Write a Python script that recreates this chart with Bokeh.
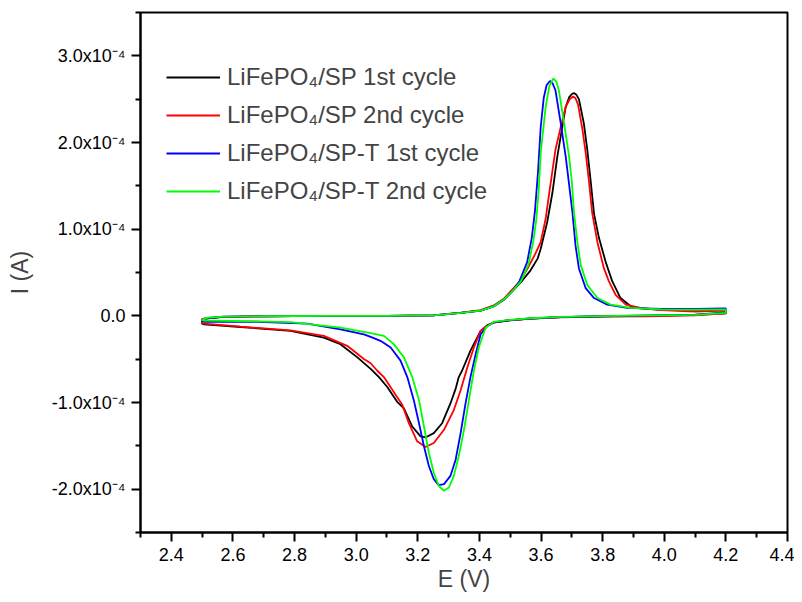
from bokeh.plotting import figure
from bokeh.models import (FixedTicker, CustomJSTickFormatter, Legend, LegendItem,
                          Range1d, ColumnDataSource)
from bokeh.embed import file_html
from bokeh.resources import INLINE

# ---------------- data (I in units of 1e-4 A, converted below) ----------------
UNIT = 1e-4

black_E = [2.50, 2.57, 2.70, 2.90, 3.10, 3.25, 3.34, 3.404, 3.447, 3.480, 3.511, 3.540,
           3.566, 3.589, 3.599, 3.620, 3.637, 3.653, 3.669, 3.680, 3.691, 3.700, 3.707,
           3.715, 3.723, 3.739, 3.750, 3.761, 3.772, 3.788, 3.810, 3.831, 3.858, 3.891,
           3.923, 3.99, 4.10, 4.20,
           4.20, 4.10, 3.95, 3.80, 3.664, 3.566, 3.491, 3.447, 3.425, 3.404, 3.371, 3.344,
           3.333, 3.323, 3.306, 3.279, 3.252, 3.225, 3.209, 3.182, 3.155, 3.133, 3.101,
           3.074, 3.047, 3.004, 2.949, 2.895, 2.787, 2.625, 2.506, 2.50, 2.50]
black_I = [-0.035, -0.011, -0.005, 0.0, 0.0, 0.005, 0.034, 0.06, 0.111, 0.186, 0.30, 0.41,
           0.525, 0.66, 0.775, 1.08, 1.42, 1.84, 2.18, 2.41, 2.52, 2.56, 2.57,
           2.55, 2.50, 2.22, 1.92, 1.56, 1.18, 0.90, 0.62, 0.40, 0.205, 0.11,
           0.085, 0.07, 0.06, 0.065,
           0.03, 0.01, 0.0, -0.005, -0.015, -0.031, -0.054, -0.075, -0.11, -0.174, -0.402, -0.631,
           -0.707, -0.84, -1.011, -1.239, -1.353, -1.403, -1.391, -1.277, -1.068, -0.992, -0.821,
           -0.707, -0.612, -0.479, -0.327, -0.251, -0.174, -0.129, -0.099, -0.09, -0.035]

red_E = [2.50, 2.57, 2.70, 2.90, 3.10, 3.25, 3.34, 3.404, 3.447, 3.480, 3.511, 3.534,
         3.560, 3.582, 3.599, 3.615, 3.628, 3.647, 3.664, 3.680, 3.693, 3.704, 3.712,
         3.720, 3.734, 3.745, 3.755, 3.766, 3.783, 3.804, 3.820, 3.842, 3.875, 3.923,
         3.99, 4.10, 4.20,
         4.20, 4.10, 3.95, 3.80, 3.664, 3.566, 3.491, 3.447, 3.425, 3.404, 3.382, 3.361,
         3.339, 3.317, 3.285, 3.252, 3.225, 3.198, 3.171, 3.150, 3.122, 3.090, 3.068,
         3.047, 3.025, 2.971, 2.895, 2.787, 2.625, 2.506, 2.50, 2.50]
red_I = [-0.035, -0.011, -0.005, 0.0, 0.0, 0.005, 0.036, 0.065, 0.12, 0.20, 0.32, 0.41,
         0.57, 0.72, 0.85, 1.12, 1.45, 1.92, 2.18, 2.41, 2.50, 2.53, 2.51,
         2.44, 2.16, 1.88, 1.57, 1.19, 0.85, 0.55, 0.40, 0.243, 0.129, 0.091,
         0.065, 0.05, 0.06,
         0.03, 0.005, -0.005, -0.01, -0.018, -0.033, -0.056, -0.078, -0.115, -0.174, -0.365, -0.593,
         -0.859, -1.087, -1.315, -1.467, -1.513, -1.448, -1.239, -1.030, -0.878, -0.707, -0.631,
         -0.547, -0.498, -0.346, -0.231, -0.168, -0.125, -0.091, -0.085, -0.035]

blue_E = [2.50, 2.52, 2.57, 2.70, 2.90, 3.10, 3.25, 3.34, 3.404, 3.447, 3.480, 3.511,
          3.530, 3.555, 3.570, 3.580, 3.590, 3.599, 3.609, 3.618, 3.629, 3.638, 3.647,
          3.664, 3.680, 3.691, 3.702, 3.712, 3.723, 3.745, 3.772, 3.815, 3.880, 3.99,
          4.10, 4.20,
          4.20, 4.10, 3.95, 3.80, 3.664, 3.566, 3.491, 3.447, 3.425, 3.404, 3.388, 3.371,
          3.355, 3.339, 3.323, 3.306, 3.285, 3.268, 3.252, 3.236, 3.220, 3.204, 3.187,
          3.166, 3.144, 3.112, 3.079, 3.047, 3.025, 2.949, 2.841, 2.679, 2.506, 2.50, 2.50]
blue_I = [-0.06, -0.025, -0.01, -0.005, 0.0, 0.0, 0.005, 0.034, 0.06, 0.11, 0.19, 0.30,
          0.40, 0.62, 0.90, 1.20, 1.65, 2.18, 2.52, 2.66, 2.71, 2.68, 2.60,
          2.22, 1.84, 1.52, 1.19, 0.81, 0.547, 0.319, 0.205, 0.129, 0.091, 0.08,
          0.08, 0.085,
          0.04, 0.015, 0.005, -0.005, -0.015, -0.031, -0.054, -0.075, -0.12, -0.213, -0.441, -0.707,
          -1.011, -1.353, -1.657, -1.847, -1.942, -1.953, -1.885, -1.733, -1.505, -1.239, -0.973,
          -0.707, -0.517, -0.365, -0.288, -0.243, -0.213, -0.156, -0.091, -0.068, -0.068, -0.065, -0.06]

green_E = [2.50, 2.52, 2.57, 2.70, 2.90, 3.10, 3.25, 3.34, 3.404, 3.447, 3.480, 3.511,
           3.535, 3.560, 3.575, 3.585, 3.593, 3.599, 3.615, 3.627, 3.640, 3.650, 3.658,
           3.675, 3.691, 3.700, 3.707, 3.718, 3.729, 3.750, 3.783, 3.826, 3.891, 3.99,
           4.10, 4.20,
           4.20, 4.10, 3.95, 3.80, 3.664, 3.566, 3.491, 3.447, 3.420, 3.398, 3.382, 3.366,
           3.350, 3.333, 3.317, 3.301, 3.285, 3.268, 3.252, 3.236, 3.220, 3.204, 3.182,
           3.155, 3.122, 3.090, 3.047, 2.949, 2.787, 2.506, 2.50, 2.50]
green_I = [-0.045, -0.02, -0.01, -0.005, 0.0, 0.0, 0.005, 0.034, 0.06, 0.11, 0.19, 0.30,
           0.40, 0.60, 0.86, 1.12, 1.48, 1.88, 2.41, 2.65, 2.74, 2.70, 2.60,
           2.22, 1.84, 1.55, 1.19, 0.85, 0.585, 0.357, 0.205, 0.129, 0.091, 0.075,
           0.07, 0.075,
           0.035, 0.012, 0.005, -0.003, -0.012, -0.028, -0.05, -0.07, -0.137, -0.365, -0.631, -0.973,
           -1.315, -1.619, -1.847, -1.981, -2.018, -1.961, -1.810, -1.582, -1.277, -0.973, -0.707,
           -0.479, -0.327, -0.231, -0.20, -0.137, -0.072, -0.054, -0.05, -0.045]

series_names = ["LiFePO\u2084/SP 1st cycle", "LiFePO\u2084/SP 2nd cycle",
                "LiFePO\u2084/SP-T 1st cycle", "LiFePO\u2084/SP-T 2nd cycle"]
series_colors = ["#000000", "#ff0000", "#0000ff", "#00ff00"]

X_TICKS = [2.4, 2.6, 2.8, 3.0, 3.2, 3.4, 3.6, 3.8, 4.0, 4.2, 4.4]
X_MINOR = [2.3, 2.5, 2.7, 2.9, 3.1, 3.3, 3.5, 3.7, 3.9, 4.1, 4.3]
Y_TICKS = [-2e-4, -1e-4, 0.0, 1e-4, 2e-4, 3e-4]
Y_MINOR = [-2.5e-4, -1.5e-4, -0.5e-4, 0.5e-4, 1.5e-4, 2.5e-4, 3.5e-4]

FONT = "Liberation Sans"

p = figure(width=794, height=594, output_backend="svg", toolbar_location=None,
           x_range=Range1d(2.3, 4.4), y_range=Range1d(-2.5e-4, 3.5e-4),
           min_border_left=140, min_border_right=7, min_border_top=12, min_border_bottom=56,
           background_fill_color="white", border_fill_color="white")
p.grid.visible = False
p.outline_line_color = "black"
p.outline_line_width = 2

renderers = []
for E, I, c in [(black_E, black_I, series_colors[0]), (red_E, red_I, series_colors[1]),
                (blue_E, blue_I, series_colors[2]), (green_E, green_I, series_colors[3])]:
    src = ColumnDataSource(dict(x=E, y=[v * UNIT for v in I]))
    r = p.line("x", "y", source=src, line_color=c, line_width=1.8)
    renderers.append(r)

for ax in (p.xaxis[0], p.yaxis[0]):
    ax.axis_line_width = 2
    ax.major_tick_line_width = 2
    ax.minor_tick_line_width = 2
    ax.major_tick_out = 9
    ax.major_tick_in = 0
    ax.minor_tick_out = 5
    ax.minor_tick_in = 0
    ax.major_label_text_font = FONT
    ax.major_label_text_font_size = "18px"
    ax.major_label_text_color = "black"
    ax.axis_label_text_font = FONT
    ax.axis_label_text_font_size = "23px"
    ax.axis_label_text_font_style = "normal"
    ax.major_label_standoff = 6

p.xaxis.ticker = FixedTicker(ticks=X_TICKS, minor_ticks=X_MINOR)
p.yaxis.ticker = FixedTicker(ticks=Y_TICKS, minor_ticks=Y_MINOR)
p.xaxis.formatter = CustomJSTickFormatter(code="return tick.toFixed(1);")
p.yaxis.formatter = CustomJSTickFormatter(code="""
if (Math.abs(tick) < 1e-12) { return "0.0"; }
return (tick * 1e4).toFixed(1) + "x10\u207B\u2074";
""")
p.xaxis.axis_label = "E (V)"
p.yaxis.axis_label = "I (A)"
p.xaxis.axis_label_standoff = 2
p.yaxis.axis_label_standoff = 16

items = [LegendItem(label=n, renderers=[r]) for n, r in zip(series_names, renderers)]
legend = Legend(items=items, location=(26, 327), padding=0, margin=0,
                glyph_width=54, glyph_height=20, label_height=20, label_standoff=7,
                spacing=10, border_line_alpha=0, background_fill_alpha=0,
                label_text_font=FONT, label_text_font_size="24px")
p.add_layout(legend)

open("out.html", "w", encoding="utf-8").write(file_html(p, INLINE))
